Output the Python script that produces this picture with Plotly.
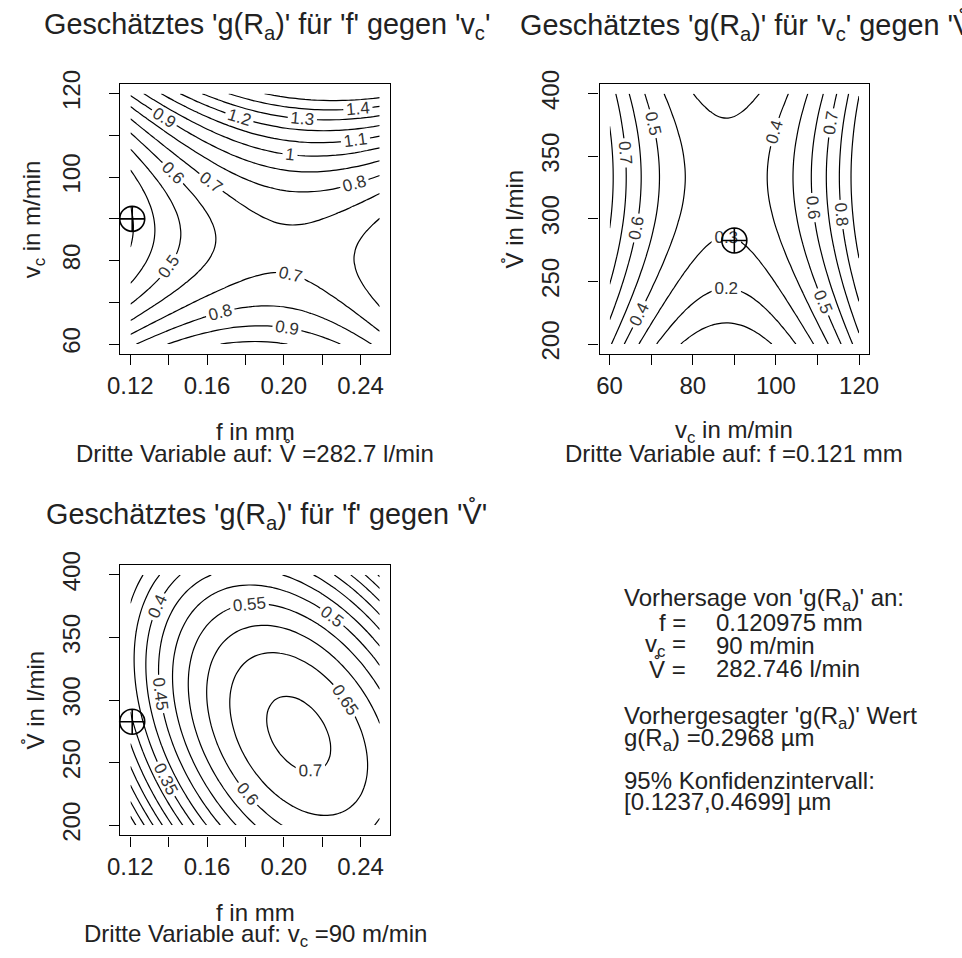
import numpy as np
import plotly.graph_objects as go

# ---------------- data ----------------
# factor ranges of the design (natural units)
F_RANGE = [0.12, 0.25]      # f in mm
VC_RANGE = [60.0, 120.0]    # v_c in m/min
V_RANGE = [200.0, 400.0]    # V-dot in l/min

# prediction point (third variable settings)
F_PRED = 0.120975
VC_PRED = 90.0
V_PRED = 282.746

# second-order response-surface coefficients (coded units)
COEF_TERMS = ["b0", "f", "vc", "V", "f2", "vc2", "V2", "f_vc", "f_V", "vc_V"]
COEF_VALUES = [0.686, 0.128, 0.23, -0.04, -0.245, 0.56, -0.177, 0.16, -0.16, 0.0]

# contour levels per panel: start, end, step
LEVELS_1 = [0.1, 1.9, 0.1]
LEVELS_2 = [0.1, 1.0, 0.1]
LEVELS_3 = [0.05, 0.8, 0.05]

F_TICKS = [0.12, 0.14, 0.16, 0.18, 0.20, 0.22, 0.24]
F_TICKTEXT = ["0.12", "", "0.16", "", "0.20", "", "0.24"]
VC_TICKS = [60, 70, 80, 90, 100, 110, 120]
VC_TICKTEXT = ["60", "", "80", "", "100", "", "120"]
V_TICKS = [200, 250, 300, 350, 400]
V_TICKTEXT = ["200", "250", "300", "350", "400"]

# ---------------- model ----------------
C = dict(zip(COEF_TERMS, COEF_VALUES))


def coded(x, rng):
    return (x - (rng[0] + rng[1]) / 2.0) / ((rng[1] - rng[0]) / 2.0)


def g_hat(f, vc, V):
    u, v, w = coded(f, F_RANGE), coded(vc, VC_RANGE), coded(V, V_RANGE)
    return (C["b0"] + C["f"] * u + C["vc"] * v + C["V"] * w
            + C["f2"] * u * u + C["vc2"] * v * v + C["V2"] * w * w
            + C["f_vc"] * u * v + C["f_V"] * u * w + C["vc_V"] * v * w)


N = 41
f_grid = np.linspace(F_RANGE[0], F_RANGE[1], N)
vc_grid = np.linspace(VC_RANGE[0], VC_RANGE[1], N)
V_grid = np.linspace(V_RANGE[0], V_RANGE[1], N)

FF, VCc = np.meshgrid(f_grid, vc_grid)
z1 = g_hat(FF, VCc, V_PRED)
VCg, VVg = np.meshgrid(vc_grid, V_grid)
z2 = g_hat(F_PRED, VCg, VVg)
FF3, VV3 = np.meshgrid(f_grid, V_grid)
z3 = g_hat(FF3, VC_PRED, VV3)

# ---------------- figure ----------------
W, H = 962, 958
FONT = "Liberation Sans, Arial, Helvetica, sans-serif"
TXT = "#222222"
BASE = 24


def px(x):
    return x / W


def py(y):
    return 1 - y / H


def ext(r):
    d = (r[1] - r[0]) * 0.04
    return [r[0] - d, r[1] + d]


BLACK = [[0, "black"], [1, "black"]]


def contour(x, y, z, lv, xa, ya):
    return go.Contour(
        x=x, y=y, z=z, xaxis=xa, yaxis=ya,
        contours=dict(start=lv[0], end=lv[1] + 1e-9, size=lv[2], coloring="lines",
                      showlabels=True,
                      labelfont=dict(size=17, color="#333333", family=FONT)),
        colorscale=BLACK, showscale=False, line=dict(width=1.2),
        hoverinfo="skip")


def marker(x, y, xa, ya):
    return go.Scatter(x=[x], y=[y], xaxis=xa, yaxis=ya, mode="markers",
                      marker=dict(symbol="circle-cross-open", size=25,
                                  color="black", line=dict(width=1.6)),
                      cliponaxis=False, showlegend=False, hoverinfo="skip")


fig = go.Figure()
fig.add_trace(contour(f_grid, vc_grid, z1, LEVELS_1, "x", "y"))
fig.add_trace(marker(F_PRED, VC_PRED, "x", "y"))
fig.add_trace(contour(vc_grid, V_grid, z2, LEVELS_2, "x2", "y2"))
fig.add_trace(marker(VC_PRED, V_PRED, "x2", "y2"))
fig.add_trace(contour(f_grid, V_grid, z3, LEVELS_3, "x3", "y3"))
fig.add_trace(marker(F_PRED, V_PRED, "x3", "y3"))

boxes = {
    "1": (110, 386, 72, 348),
    "2": (601, 877, 72, 348),
    "3": (110, 386, 563, 839),
}

common = dict(showline=True, mirror=True, linecolor="black", linewidth=1.3,
              ticks="outside", ticklen=10, tickwidth=1.3, tickcolor="black",
              showgrid=False, zeroline=False,
              tickfont=dict(size=BASE, family=FONT, color=TXT))


def xax(key, rng, tv, tt):
    l, r, t, b = boxes[key]
    return dict(domain=[px(l), px(r)], range=ext(rng), tickvals=tv, ticktext=tt,
                ticklabelstandoff=0, **common)


def yax(key, rng, tv, tt, anchor):
    l, r, t, b = boxes[key]
    return dict(domain=[py(b), py(t)], range=ext(rng), tickvals=tv, ticktext=tt,
                tickangle=-90, ticklabelstandoff=20, anchor=anchor, **common)


fig.update_layout(
    width=W, height=H, margin=dict(l=0, r=0, t=0, b=0),
    paper_bgcolor="white", plot_bgcolor="white", showlegend=False,
    xaxis=dict(anchor="y", **xax("1", F_RANGE, F_TICKS, F_TICKTEXT)),
    yaxis=yax("1", VC_RANGE, VC_TICKS, VC_TICKTEXT, "x"),
    xaxis2=dict(anchor="y2", **xax("2", VC_RANGE, VC_TICKS, VC_TICKTEXT)),
    yaxis2=yax("2", V_RANGE, V_TICKS, V_TICKTEXT, "x2"),
    xaxis3=dict(anchor="y3", **xax("3", F_RANGE, F_TICKS, F_TICKTEXT)),
    yaxis3=yax("3", V_RANGE, V_TICKS, V_TICKTEXT, "x3"),
)

VR = "V\u030A"
annotations = []


def ann(text, x, y, size=BASE, xanchor="center", angle=0):
    annotations.append(dict(text=text, x=px(x), y=py(y), xref="paper", yref="paper",
                            xanchor=xanchor, yanchor="middle", showarrow=False,
                            textangle=angle,
                            font=dict(size=size, family=FONT, color=TXT)))


TS = 28.8
# titles
ann("Geschätztes 'g(R<sub>a</sub>)' für 'f' gegen 'v<sub>c</sub>'", 260, 13, size=TS)
ann("Geschätztes 'g(R<sub>a</sub>)' für 'v<sub>c</sub>' gegen '" + VR + "'", 754, 13, size=TS)
ann("Geschätztes 'g(R<sub>a</sub>)' für 'f' gegen '" + VR + "'", 260, 512, size=TS)

# x axis titles + third variable
ann("f in mm", 248, 427)
ann("Dritte Variable auf: " + VR + " =282.7 l/min", 248, 449)
ann("v<sub>c</sub> in m/min", 739, 427)
ann("Dritte Variable auf: f =0.121 mm", 739, 449)
ann("f in mm", 248, 918)
ann("Dritte Variable auf: v<sub>c</sub> =90 m/min", 248, 941)

# y axis titles
ann("v<sub>c</sub> in m/min", 21, 210, angle=-90)
ann(VR + " in l/min", 514, 210, angle=-90)
ann(VR + " in l/min", 23, 701, angle=-90)

# prediction info block
ann("Vorhersage von 'g(R<sub>a</sub>)' an:", 624, 598, xanchor="left")
ann("f =", 692, 622, xanchor="right")
ann("0.120975 mm", 718, 622, xanchor="left")
ann("v<sub>c</sub> =", 692, 645, xanchor="right")
ann("90 m/min", 718, 645, xanchor="left")
ann(VR + " =", 692, 669, xanchor="right")
ann("282.746 l/min", 718, 669, xanchor="left")
ann("Vorhergesagter 'g(R<sub>a</sub>)' Wert", 624, 719, xanchor="left")
ann("g(R<sub>a</sub>) =0.2968 µm", 624, 741, xanchor="left")
ann("95% Konfidenzintervall:", 624, 783, xanchor="left")
ann("[0.1237,0.4699] µm", 624, 804, xanchor="left")

fig.update_layout(annotations=annotations)
fig.write_html("out.html")
